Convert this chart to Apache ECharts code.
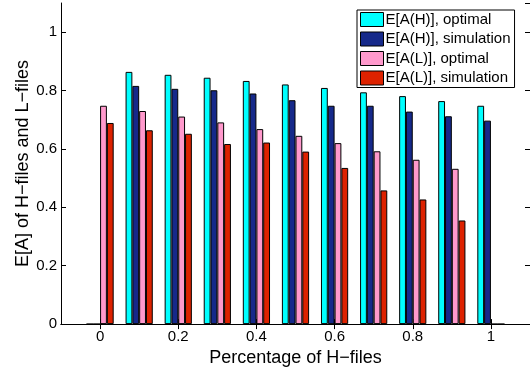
<!DOCTYPE html>
<html>
<head>
<meta charset="utf-8">
<script src="https://cdn.jsdelivr.net/npm/echarts@6/dist/echarts.min.js"></script>
<style>
  html, body { margin: 0; padding: 0; background: #fff; }
  #chart { width: 530px; height: 372px; }
</style>
</head>
<body>
<div id="chart"></div>
<script>
// percentage of H-files (x categories)
const categories = ['0', '0.1', '0.2', '0.3', '0.4', '0.5', '0.6', '0.7', '0.8', '0.9', '1'];

const hOptimal   = [0, 0.864, 0.854, 0.844, 0.833, 0.821, 0.809, 0.794, 0.781, 0.764, 0.748];
const hSim       = [0, 0.816, 0.806, 0.801, 0.790, 0.767, 0.748, 0.748, 0.728, 0.712, 0.697];
const lOptimal   = [0.748, 0.730, 0.711, 0.691, 0.668, 0.645, 0.620, 0.592, 0.563, 0.532, 0];
const lSim       = [0.689, 0.664, 0.652, 0.617, 0.622, 0.591, 0.535, 0.458, 0.427, 0.355, 0];

const seriesNames = ['E[A(H)], optimal', 'E[A(H)], simulation', 'E[A(L)], optimal', 'E[A(L)], simulation'];
const seriesColors = ['#00FFFF', '#16298A', '#FF99CC', '#DD2200'];

const FONT = 'Liberation Sans, Arial, Helvetica, sans-serif';

// axis goes from -0.1 to 1.1 -> pad one empty slot on each side
const axisCats = ['-0.1'].concat(categories, ['1.1']);
const pad = arr => [null].concat(arr, [null]);
const showEveryOther = idx => idx >= 1 && idx <= categories.length && (idx - 1) % 2 === 0;

var dom = document.getElementById('chart');
var myChart = echarts.init(dom, null, { renderer: 'canvas' });

const xBase = {
    type: 'category',
    data: axisCats,
    boundaryGap: false,
    axisLine: { lineStyle: { color: '#000', width: 1 } },
    axisTick: { inside: true, length: 5, interval: showEveryOther, lineStyle: { color: '#000' } },
    splitLine: { show: false }
};

const yBase = {
    type: 'value',
    min: 0,
    max: 1.1,
    interval: 0.2,
    axisLine: { show: true, lineStyle: { color: '#000', width: 1 } },
    axisTick: { show: true, inside: true, length: 5, lineStyle: { color: '#000' } },
    splitLine: { show: false }
};

const option = {
    animation: false,
    backgroundColor: '#fff',
    textStyle: { fontFamily: FONT },
    grid: { left: 61, top: 3, width: 470, height: 328, containLabel: false },
    legend: {
        left: 357,
        top: 10,
        orient: 'vertical',
        data: seriesNames,
        icon: 'path://M0,0L23,0L23,14L0,14Z',
        itemWidth: 23,
        itemHeight: 14,
        itemGap: 4.5,
        padding: [2, 4, 2, 3],
        borderColor: '#000',
        borderWidth: 1,
        borderRadius: 0,
        backgroundColor: '#fff',
        itemStyle: { borderColor: '#000', borderWidth: 1, borderJoin: 'miter' },
        textStyle: { fontFamily: FONT, fontSize: 15, color: '#000', lineHeight: 15, padding: [0, 0, 0, -3] }
    },
    xAxis: [
        Object.assign({}, xBase, {
            position: 'bottom',
            name: 'Percentage of H\u2212files',
            nameLocation: 'middle',
            nameGap: 19,
            nameTextStyle: { fontFamily: FONT, fontSize: 18, color: '#000' },
            axisLabel: { interval: showEveryOther, margin: 5, fontFamily: FONT, fontSize: 15, color: '#000' }
        }),
        Object.assign({}, xBase, {
            position: 'top',
            axisLabel: { show: false }
        })
    ],
    yAxis: [
        Object.assign({}, yBase, {
            position: 'left',
            name: 'E[A] of H\u2212files and L\u2212files',
            nameLocation: 'middle',
            nameGap: 29,
            nameMoveOverlap: false,
            nameTextStyle: { fontFamily: FONT, fontSize: 18, color: '#000' },
            axisLabel: { margin: 4, showMaxLabel: false, fontFamily: FONT, fontSize: 15, color: '#000' }
        }),
        Object.assign({}, yBase, {
            position: 'right',
            axisLabel: { show: false }
        })
    ],
    series: [hOptimal, hSim, lOptimal, lSim].map((vals, i) => ({
        name: seriesNames[i],
        type: 'bar',
        xAxisIndex: 0,
        yAxisIndex: 0,
        data: pad(vals),
        barWidth: 6.8,
        barGap: '0%',
        itemStyle: { color: seriesColors[i], borderColor: '#000', borderWidth: 1 }
    }))
};

myChart.setOption(option);
</script>
</body>
</html>
